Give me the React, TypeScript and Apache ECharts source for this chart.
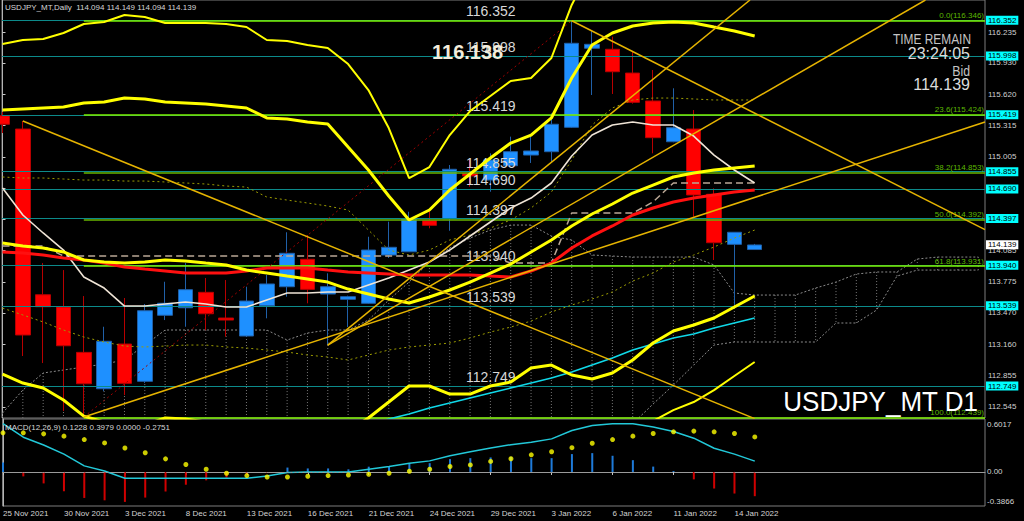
import React, { useEffect, useRef } from 'react';
import * as echarts from 'echarts';

const FONT = '"Liberation Sans", Arial, sans-serif';
const CLEAR = 'rgba(0,0,0,0)';

// ---------- axes ----------
const X_MIN = -0.025;
const X_MAX = 48.33;
const Y_MIN = 112.436;
const Y_MAX = 116.55;
const TICK_INDEX = [0, 3, 6, 9, 12, 15, 18, 21, 24, 27, 30, 33, 36];
const TICK_LABELS = ['25 Nov 2021', '30 Nov 2021', '3 Dec 2021', '8 Dec 2021', '13 Dec 2021', '16 Dec 2021', '21 Dec 2021', '24 Dec 2021', '29 Dec 2021', '3 Jan 2022', '6 Jan 2022', '11 Jan 2022', '14 Jan 2022'];
const PRICE_TICKS = [116.235, 115.93, 115.62, 115.315, 115.005, 114.695, 114.39, 114.085, 113.775, 113.47, 113.16, 112.855, 112.545];
const MACD_MIN = -0.3866;
const MACD_MAX = 0.6017;
const MACD_TICKS = [0.6017, 0, -0.3866];
const MACD_TICK_LABELS = ['0.6017', '0.00', '-0.3866'];

// ---------- candles (bars 25 Nov 2021 .. 17 Jan 2022) ----------
const OPEN = [115.411, 115.28, 113.649, 113.528, 113.082, 112.724, 113.164, 112.797, 113.447, 113.521, 113.673, 113.42, 113.243, 113.541, 113.728, 113.998, 113.656, 113.604, 113.565, 114.04, 114.072, 114.378, 114.397, 114.844, 114.778, 114.919, 115.024, 115.057, 115.297, 116.075, 116.065, 115.831, 115.556, 115.155, 115.28, 114.638, 114.145, 114.094];
const CLOSE = [115.327, 113.253, 113.531, 113.147, 112.773, 113.191, 112.777, 113.492, 113.565, 113.699, 113.462, 113.4, 113.587, 113.755, 114.057, 113.702, 113.728, 113.63, 114.089, 114.116, 114.394, 114.332, 114.884, 114.818, 114.975, 115.057, 115.064, 115.327, 116.124, 116.114, 115.844, 115.543, 115.195, 115.293, 114.631, 114.161, 114.264, 114.139];
const LOW = [115.241, 113.046, 112.977, 112.505, 112.446, 112.7, 112.662, 112.78, 113.4, 113.334, 113.3, 113.236, 113.236, 113.417, 113.63, 113.565, 113.154, 113.331, 113.56, 114.011, 114.072, 114.303, 114.279, 114.712, 114.663, 114.919, 114.946, 114.958, 115.29, 115.615, 115.625, 115.53, 115.041, 115.15, 114.417, 113.991, 113.55, 114.094];
const HIGH = [115.45, 115.359, 113.961, 113.892, 113.636, 113.334, 113.617, 113.558, 113.777, 113.961, 113.814, 113.794, 113.728, 113.843, 114.264, 114.237, 113.86, 113.64, 114.22, 114.368, 114.466, 114.483, 114.926, 114.975, 115.041, 115.205, 115.205, 115.435, 116.346, 116.25, 116.189, 116.041, 115.861, 115.681, 115.467, 114.697, 114.264, 114.149];

// ---------- indicators ----------
const BAND_UP2 = [116.117, 116.156, 116.166, 116.225, 116.314, 116.333, 116.402, 116.383, 116.324, 116.324, 116.324, 116.314, 116.284, 116.156, 116.146, 116.107, 116.078, 115.92, 115.664, 115.29, 114.798, 114.906, 115.221, 115.457, 115.605, 115.753, 115.782, 115.979, 116.501, 116.894, null, null, null, null, null, null, null, null];
const BAND_UP1 = [115.467, 115.477, 115.487, 115.497, 115.536, 115.546, 115.585, 115.576, 115.546, 115.536, 115.526, 115.507, 115.487, 115.389, 115.379, 115.349, 115.33, 115.103, 114.877, 114.621, 114.385, 114.483, 114.68, 114.837, 114.995, 115.142, 115.221, 115.389, 115.782, 116.107, 116.225, 116.294, 116.324, 116.333, 116.324, 116.284, 116.245, 116.196];
const BAND_MID = [114.158, 114.129, 114.109, 114.07, 113.991, 113.971, 113.961, 113.971, 113.991, 113.981, 113.961, 113.942, 113.892, 113.863, 113.833, 113.804, 113.774, 113.705, 113.656, 113.607, 113.568, 113.627, 113.696, 113.774, 113.863, 113.951, 114.07, 114.188, 114.326, 114.444, 114.542, 114.65, 114.729, 114.808, 114.847, 114.877, 114.897, 114.916];
const BAND_LO1 = [112.869, 112.78, 112.731, 112.613, 112.455, 112.396, 112.337, 112.367, 112.436, 112.426, 112.396, 112.376, 112.298, 112.337, 112.288, 112.258, 112.219, 112.308, 112.436, 112.593, 112.751, 112.751, 112.672, 112.672, 112.751, 112.79, 112.928, 112.957, 112.859, 112.82, 112.879, 113.007, 113.174, 113.292, 113.351, 113.42, 113.528, 113.637];
const BAND_LO2 = [null, null, null, null, null, null, null, null, null, null, null, null, null, null, null, null, null, null, null, null, null, null, null, null, null, null, null, null, null, null, null, 112.318, 112.406, 112.514, 112.593, 112.711, 112.849, 112.987];
const MA_RED = [114.07, 114.06, 114.04, 114.011, 113.991, 113.961, 113.922, 113.902, 113.883, 113.863, 113.863, 113.863, 113.883, 113.912, 113.912, 113.912, 113.892, 113.873, 113.863, 113.853, 113.843, 113.843, 113.843, 113.843, 113.833, 113.824, 113.883, 113.961, 114.109, 114.228, 114.326, 114.434, 114.503, 114.562, 114.601, 114.631, 114.66, 114.68];
const TENKAN = [114.7, 114.434, 114.257, 114.089, 113.824, 113.715, 113.538, 113.538, 113.558, 113.577, 113.558, 113.528, 113.528, 113.597, 113.666, 113.666, 113.676, 113.676, 113.745, 113.814, 113.892, 113.971, 114.089, 114.227, 114.365, 114.503, 114.601, 114.749, 115.014, 115.221, 115.32, 115.349, 115.32, 115.32, 115.211, 115.024, 114.877, 114.749];
const KIJUN = [114.129, 114.129, 114.129, 114.03, 114.03, 114.03, 114.03, 114.03, 114.03, 114.03, 114.03, 114.03, 114.03, 114.03, 114.03, 114.03, 114.03, 114.03, 114.03, 114.03, 114.03, 114.03, 114.03, 114.03, 114.03, 113.961, 113.961, 113.961, 114.453, 114.453, 114.453, 114.453, 114.562, 114.749, 114.749, 114.749, 114.749, 114.749];
const ENV_UP = [114.808, 114.798, 114.798, 114.788, 114.778, 114.778, 114.768, 114.768, 114.759, 114.749, 114.739, 114.719, 114.709, 114.611, 114.581, 114.552, 114.522, 114.483, 114.286, 114.089, 114.04, 114.089, 114.188, 114.237, 114.306, 114.385, 114.503, 114.66, 114.975, 115.32, 115.487, 115.566, 115.585, 115.585, 115.576, 115.566, 115.566, 115.566];
const ENV_LO = [113.518, 113.45, 113.381, 113.302, 113.233, 113.184, 113.144, 113.135, 113.144, 113.154, 113.154, 113.135, 113.125, 113.105, 113.085, 113.056, 113.036, 113.007, 113.056, 113.105, 113.135, 113.154, 113.174, 113.223, 113.282, 113.331, 113.39, 113.479, 113.548, 113.607, 113.676, 113.784, 113.863, 113.971, 114.04, 114.119, 114.207, 114.286];
const MA_CYAN = [null, null, null, null, null, null, null, null, null, null, null, null, null, null, null, null, null, null, 112.377, 112.426, 112.475, 112.534, 112.583, 112.633, 112.682, 112.731, 112.78, 112.829, 112.888, 112.957, 113.026, 113.105, 113.164, 113.223, 113.263, 113.322, 113.371, 113.42];
const SPAN_UP = [112.485, 112.711, 112.879, 112.908, 112.938, 112.967, 113.007, 113.154, 113.302, 113.302, 113.302, 113.302, 113.302, 113.302, 113.203, 113.272, 113.302, 113.302, 113.4, 113.597, 113.774, 113.971, 114.109, 114.207, 114.286, 114.335, 114.335, 114.227, 114.188, 114.04, 114.03, 114.02, 114.02, 114.02, 114.02, 113.942, 113.666, 113.646, 113.646, 113.646, 113.715, 113.774, 113.853, 113.873, 113.873, 114.001, 114.02, 114.02, 114.02];
const SPAN_LO = [112.3, 112.3, 112.3, 112.3, 112.3, 112.3, 112.3, 112.3, 112.3, 112.3, 112.3, 112.3, 112.3, 112.3, 112.3, 112.3, 112.3, 112.3, 112.3, 112.3, 112.3, 112.3, 112.3, 112.3, 112.3, 112.3, 112.3, 112.3, 112.3, 112.3, 112.3, 112.38, 112.573, 112.76, 112.957, 113.154, 113.184, 113.184, 113.184, 113.184, 113.184, 113.371, 113.371, 113.499, 113.833, 113.892, 113.892, 113.892, 113.892];

// ---------- drawn objects ----------
const H_LEVELS = [116.352, 115.998, 115.419, 114.855, 114.69, 114.397, 113.94, 113.539, 112.749];
const LEVEL_TEXT_AT = 22.7;
const FIB_START = 4;
const FIB_LEVELS = [116.346, 115.424, 114.853, 114.392, 113.931, 112.439];
const FIB_NAMES = ['0.0(116.346)', '23.6(115.424)', '38.2(114.853)', '50.0(114.392)', '61.8(113.931)', '100.0(112.439)'];
const FIB_DIAGONAL = [[4, 112.446], [28, 116.346]];
const TRENDS = [
  [[1, 115.359], [37, 112.43]],
  [[4, 112.446], [48.33, 115.349]],
  [[16, 113.154], [36.77, 116.55]],
  [[16, 113.154], [45.4, 116.55]],
  [[28, 116.346], [48.33, 114.29]],
];
const BID = 114.139;

// ---------- MACD ----------
const MACD_LINE = [0.548, 0.395, 0.307, 0.203, 0.069, 0.011, -0.072, -0.072, -0.072, -0.072, -0.072, -0.072, -0.072, -0.046, -0.007, 0.0, 0.0, 0.0, 0.031, 0.062, 0.1, 0.126, 0.184, 0.23, 0.272, 0.31, 0.338, 0.376, 0.471, 0.529, 0.548, 0.548, 0.51, 0.46, 0.384, 0.269, 0.203, 0.1228];
const MACD_SIGNAL = [0.445, 0.445, 0.433, 0.407, 0.368, 0.33, 0.272, 0.218, 0.149, 0.085, 0.031, -0.015, -0.041, -0.057, -0.057, -0.049, -0.041, -0.034, -0.026, -0.015, 0.008, 0.031, 0.062, 0.08, 0.12, 0.15, 0.195, 0.23, 0.276, 0.326, 0.368, 0.407, 0.437, 0.456, 0.464, 0.456, 0.437, 0.3979];
const MACD_HIST = [0.108, -0.05, -0.13, -0.218, -0.295, -0.322, -0.34, -0.291, -0.222, -0.145, -0.095, -0.064, -0.026, -0.01, 0.05, 0.04, 0.04, 0.03, 0.06, 0.06, 0.1, 0.1, 0.146, 0.157, 0.165, 0.172, 0.157, 0.157, 0.203, 0.214, 0.184, 0.134, 0.061, 0.01, -0.084, -0.188, -0.245, -0.2751];

const pairs = (arr: (number | null)[]) =>
  arr.map((v, i) => (v == null ? null : [i, v])).filter((p) => p !== null) as number[][];

function lineSeries(data: number[][], color: string, width: number, type: any = 'solid', z = 5, xi = 0) {
  return {
    type: 'line', xAxisIndex: xi, yAxisIndex: xi, data, showSymbol: false, symbol: 'none',
    silent: true, z, clip: true, lineStyle: { color, width, type }, emphasis: { disabled: true },
  };
}

function buildOption(): any {
  const series: any[] = [];

  // kumo hatch
  series.push({
    type: 'custom', xAxisIndex: 0, yAxisIndex: 0, z: 1, silent: true,
    data: SPAN_UP.map((u, i) => [i, u, SPAN_LO[i]]),
    encode: { x: 0, y: [1, 2] },
    renderItem: (params: any, api: any) => {
      const i = api.value(0);
      const p1 = api.coord([i, api.value(1)]);
      const p2 = api.coord([i, api.value(2)]);
      const cs = params.coordSys;
      const cl = (y: number) => Math.max(cs.y, Math.min(cs.y + cs.height, y));
      if (p1[0] < cs.x || p1[0] > cs.x + cs.width) return null;
      return {
        type: 'line',
        shape: { x1: p1[0], y1: cl(p1[1]), x2: p1[0], y2: cl(p2[1]) },
        style: { stroke: '#777777', lineWidth: 1, lineDash: [1, 2] },
      };
    },
  });
  series.push(lineSeries(pairs(SPAN_UP), '#8a8a8a', 1, [2, 2], 1));
  series.push(lineSeries(pairs(SPAN_LO), '#8a8a8a', 1, [2, 2], 1));

  // horizontal lines with right axis labels
  series.push({
    type: 'line', xAxisIndex: 0, yAxisIndex: 0, data: [], z: 3, silent: true,
    markLine: {
      silent: true, symbol: ['none', 'none'], animation: false,
      lineStyle: { color: '#0c8a8a', width: 1.2, type: 'solid' },
      label: {
        show: true, position: 'end', formatter: '{b}', distance: 1,
        backgroundColor: '#00ffff', color: '#000', fontSize: 8, fontFamily: FONT,
        padding: [1, 2, 0, 2], lineHeight: 8,
      },
      data: [
        ...H_LEVELS.map((p) => ({ yAxis: p, name: p.toFixed(3) })),
        { yAxis: BID, name: BID.toFixed(3), lineStyle: { color: CLEAR }, label: { backgroundColor: '#ffffff', color: '#000' } },
      ],
    },
  });

  // fibonacci levels
  series.push({
    type: 'line', xAxisIndex: 0, yAxisIndex: 0, data: [], z: 4, silent: true,
    markLine: {
      silent: true, symbol: ['none', 'none'], animation: false,
      lineStyle: { color: '#7cf000', width: 1.6, type: 'solid' },
      label: {
        show: true, position: 'insideEndTop', formatter: '{b}', distance: 1,
        color: '#5cb800', fontSize: 8, fontFamily: FONT,
      },
      data: FIB_LEVELS.map((lv, k) => [
        { coord: [FIB_START, lv], name: FIB_NAMES[k], lineStyle: { color: k === 2 || k === 3 ? '#68b400' : '#7cf000' } },
        { coord: [X_MAX, lv] },
      ]),
    },
  });

  // level text labels in the chart
  series.push({
    type: 'line', xAxisIndex: 0, yAxisIndex: 0, data: [], z: 6, silent: true,
    markLine: {
      silent: true, symbol: ['none', 'none'], animation: false,
      lineStyle: { color: CLEAR, width: 1 },
      label: {
        show: true, position: 'insideStartTop', formatter: '{b}', distance: 2,
        color: '#d8d8d8', fontSize: 14, fontFamily: FONT,
      },
      data: H_LEVELS.map((p) => [{ coord: [LEVEL_TEXT_AT, p], name: p.toFixed(3) }, { coord: [X_MAX, p] }]),
    },
  });

  // candles
  series.push({
    type: 'candlestick', xAxisIndex: 0, yAxisIndex: 0, z: 2, silent: true,
    data: OPEN.map((o, i) => [i, o, CLOSE[i], LOW[i], HIGH[i]]),
    encode: { x: 0, y: [1, 2, 3, 4] },
    barWidth: 15,
    itemStyle: { color: '#1e90ff', color0: '#ff0000', borderColor: '#2060a8', borderColor0: '#b80000', borderWidth: 1 },
  });

  // indicators
  series.push(lineSeries(pairs(ENV_UP), '#9c9c00', 1, [2, 3], 5));
  series.push(lineSeries(pairs(ENV_LO), '#9c9c00', 1, [2, 3], 5));
  series.push(lineSeries(pairs(MA_CYAN), '#10d8e8', 1.6, 'solid', 5));
  series.push(lineSeries(pairs(KIJUN), '#bba896', 1.5, [7, 4], 5));
  series.push(lineSeries(pairs(TENKAN), '#efe4d6', 1.6, 'solid', 6));
  series.push(lineSeries(pairs(MA_RED), '#ff1010', 3, 'solid', 6));
  series.push(lineSeries(pairs(BAND_UP2), '#ffff00', 2, 'solid', 6));
  series.push(lineSeries(pairs(BAND_LO2), '#ffff00', 2, 'solid', 6));
  series.push(lineSeries(pairs(BAND_UP1), '#ffff00', 3, 'solid', 6));
  series.push(lineSeries(pairs(BAND_MID), '#ffff00', 3, 'solid', 6));
  series.push(lineSeries(pairs(BAND_LO1), '#ffff00', 3, 'solid', 6));
  series.push(lineSeries(FIB_DIAGONAL, '#a00000', 1, [2, 3], 5));
  TRENDS.forEach((t) => series.push(lineSeries(t, '#e6b400', 1.5, 'solid', 7)));

  // MACD
  series.push({
    type: 'bar', xAxisIndex: 1, yAxisIndex: 1, barWidth: 2, silent: true, z: 3,
    data: MACD_HIST.map((v, i) => [i, v]),
    itemStyle: { color: (p: any) => (p.value[1] >= 0 ? '#1e7ad8' : '#d00000') },
    markLine: {
      silent: true, symbol: ['none', 'none'], animation: false, label: { show: false },
      lineStyle: { color: '#9a9a9a', width: 1, type: [2, 2] },
      data: [{ yAxis: 0 }],
    },
  });
  series.push(lineSeries(pairs(MACD_LINE), '#22c8d8', 1.5, 'solid', 4, 1));
  series.push({
    type: 'scatter', xAxisIndex: 1, yAxisIndex: 1, silent: true, z: 5, symbolSize: 5,
    data: MACD_SIGNAL.map((v, i) => [i, v]), itemStyle: { color: '#ffff00' },
  });

  return {
    animation: false,
    backgroundColor: '#000000',
    textStyle: { fontFamily: FONT },
    grid: [
      { left: 2, right: 39, top: 0, height: 418, show: true, borderColor: '#7c7c7c', borderWidth: 1 },
      { left: 2, right: 39, top: 419, height: 87, show: true, borderColor: '#7c7c7c', borderWidth: 1 },
    ],
    xAxis: [
      { type: 'value', gridIndex: 0, min: X_MIN, max: X_MAX, show: false },
      {
        type: 'value', gridIndex: 1, min: X_MIN, max: X_MAX,
        axisLine: { show: true, lineStyle: { color: '#9a9a9a' } },
        axisTick: { show: true, customValues: TICK_INDEX, length: 3, lineStyle: { color: '#c8c8c8' } },
        axisLabel: {
          show: true, customValues: TICK_INDEX, align: 'left', margin: 3, color: '#d4d4d4', fontSize: 8, fontFamily: FONT,
          formatter: (v: number) => TICK_LABELS[TICK_INDEX.indexOf(Math.round(v))] ?? '',
        },
        splitLine: { show: false },
      },
    ],
    yAxis: [
      {
        type: 'value', gridIndex: 0, position: 'right', min: Y_MIN, max: Y_MAX,
        axisLine: { show: true, lineStyle: { color: '#b4b4b4' } },
        axisTick: { show: true, customValues: PRICE_TICKS, length: 3, lineStyle: { color: '#c8c8c8' } },
        axisLabel: {
          show: true, customValues: PRICE_TICKS, margin: 3, color: '#d0d0d0', fontSize: 8, fontFamily: FONT,
          formatter: (v: number) => v.toFixed(3),
        },
        splitLine: { show: false },
      },
      {
        type: 'value', gridIndex: 1, position: 'right', min: MACD_MIN, max: MACD_MAX,
        axisLine: { show: true, lineStyle: { color: '#b4b4b4' } },
        axisTick: { show: false }, axisLabel: { show: false }, splitLine: { show: false },
      },
    ],
    series,
  };
}

function txt(text: string, x: number, y: number, o: any) {
  return {
    type: 'text', x, y, z: 100, silent: true, scaleX: o.scaleX ?? 1,
    style: {
      text, fill: o.color ?? '#d0d0d0', fontSize: o.size ?? 8, fontFamily: FONT, fontWeight: o.weight ?? 'normal',
      align: o.align ?? 'left', verticalAlign: o.valign ?? 'middle',
      textAlign: o.align ?? 'left', textVerticalAlign: o.valign ?? 'middle',
    },
  };
}

export default function App() {
  const ref = useRef<HTMLDivElement>(null);
  useEffect(() => {
    const chart = echarts.init(ref.current!, null, { renderer: 'svg' });
    chart.setOption(buildOption());
    const axisX = (chart.convertToPixel({ xAxisIndex: 1 }, X_MAX) as number) + 2;
    const macdLabels = MACD_TICKS.map((v, k) => {
      const y = chart.convertToPixel({ yAxisIndex: 1 }, v) as number;
      return txt(MACD_TICK_LABELS[k], axisX, k === 0 ? y + 1 : k === 2 ? y - 1 : y, {
        valign: k === 0 ? 'top' : k === 2 ? 'bottom' : 'middle', color: '#d4d4d4',
      });
    });
    const elements = [
      txt('USDJPY_MT,Daily  114.094 114.149 114.094 114.139', 5, 7, { color: '#d6d6d6' }),
      txt('MACD(12,26,9) 0.1228 0.3979 0.0000 -0.2751', 5, 427, { color: '#d6d6d6' }),
      txt('116.138', 432, 52, { size: 20, weight: 'bold', color: '#f3eddc' }),
      txt('TIME REMAIN', 971, 39, { size: 14, scaleX: 0.85, align: 'right', color: '#c4c4c4' }),
      txt('23:24:05', 970, 53, { size: 17, scaleX: 0.94, align: 'right', color: '#dcdcdc' }),
      txt('Bid', 970, 71.5, { size: 15, scaleX: 0.82, align: 'right', color: '#c4c4c4' }),
      txt('114.139', 970, 84.5, { size: 17, scaleX: 0.945, align: 'right', color: '#dcdcdc' }),
      txt('USDJPY_MT D1', 978, 402, { size: 28, scaleX: 0.93, align: 'right', color: '#ffffff' }),
      ...macdLabels,
    ];
    chart.setOption({ graphic: { elements } });
    return () => chart.dispose();
  }, []);
  return (
    <div
      ref={ref}
      style={{ position: 'fixed', left: 0, top: 0, width: 1024, height: 521, background: '#000' }}
    />
  );
}
